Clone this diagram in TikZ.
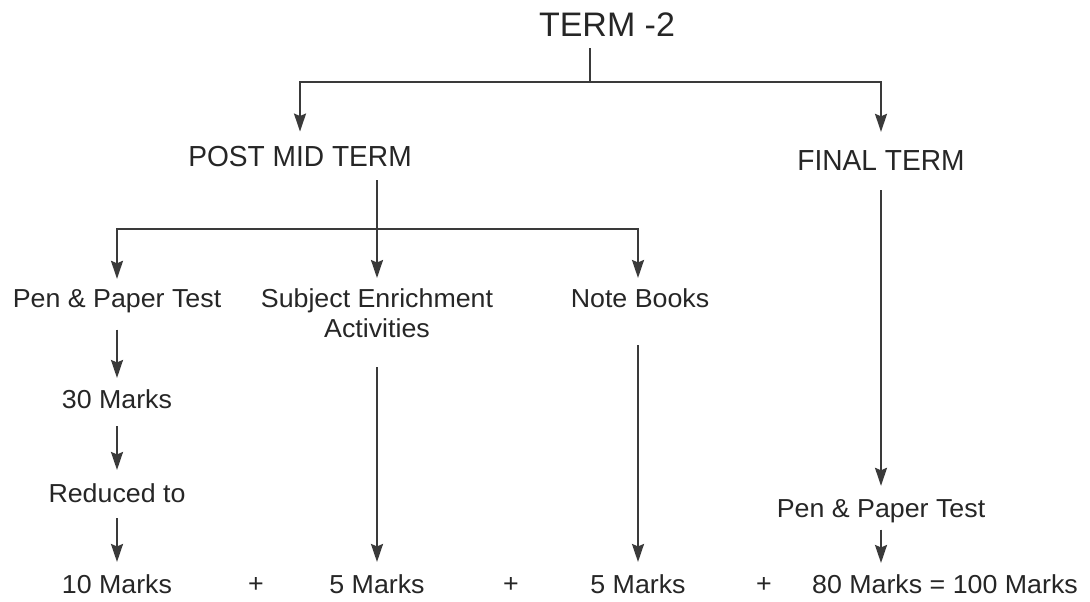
\documentclass[tikz,border=0pt]{standalone}
\usepackage{fontspec}
\setmainfont{Liberation Sans}
\newfontfamily\bodyf[FakeStretch=1.03]{Liberation Sans}
\newfontfamily\headf[FakeStretch=0.97]{Liberation Sans}
\usetikzlibrary{arrows.meta}
\definecolor{txt}{HTML}{262626}
\definecolor{lin}{HTML}{3A3A3A}
\begin{document}
\begin{tikzpicture}[x=1pt,y=-1pt,
  lbl/.style={anchor=base, inner sep=0pt, text=txt, font=\bodyf\fontsize{26}{30}\selectfont},
  head/.style={lbl, font=\headf\fontsize{29}{34}\selectfont},
  ln/.style={draw=lin, line width=2pt},
  arr/.style={ln, -{Stealth[length=18pt,width=12pt,inset=2.5pt]}}]
\useasboundingbox[fill=white] (0,0) rectangle (1090,602);

% nodes
\node[lbl, font=\fontsize{34}{40}\selectfont] (t2) at (607,37) {TERM -2};
\node[head] (pmt) at (300,166) {POST MID TERM};
\node[head] (ft) at (881,170) {FINAL TERM};
\node[lbl] (pp1) at (117,307) {Pen \& Paper Test};
\node[lbl, anchor=north, align=center] (se) at (377,288) {Subject Enrichment\\Activities};
\node[lbl] (nb) at (640,307) {Note Books};
\node[lbl] (m30) at (117,408) {30 Marks};
\node[lbl] (red) at (117,502) {Reduced to};
\node[lbl] (m10) at (117,593) {10 Marks};
\node[lbl] (m5a) at (377,593) {5 Marks};
\node[lbl] (m5b) at (638,593) {5 Marks};
\node[lbl] (m80) at (945,593) {80 Marks = 100 Marks};
\node[lbl] (p1) at (256,592) {+};
\node[lbl] (p2) at (511,592) {+};
\node[lbl] (p3) at (764,592) {+};
\node[lbl] (pp2) at (881,517) {Pen \& Paper Test};

\coordinate (j1) at (590,82);
\coordinate (j2) at (377,229);

% connectors
\draw[ln] (j1 |- t2.south) ++(0,11) -- (j1);
\draw[arr, shorten >=14pt] (j1) -| (pmt.north);
\draw[arr, shorten >=18pt] (j1) -| (ft.north);

\draw[ln] (j2 |- pmt.south) ++(0,14) -- (j2);
\draw[arr, shorten >=10pt] (j2) -- (se.north);
\draw[arr, shorten >=10pt] (j2) -| (pp1.north);
\draw[arr, shorten >=10pt] (j2) -| ([xshift=-2pt]nb.north);

\draw[arr, shorten <=17pt, shorten >=11pt] (pp1.south) -- (m30.north);
\draw[arr, shorten <=18pt, shorten >=13pt] (m30.south) -- (red.north);
\draw[arr, shorten <=16pt, shorten >=12pt] (red.south) -- (m10.north);
\draw[arr, shorten <=30pt, shorten >=12pt] (se.south) -- (m5a.north);
\draw[arr, shorten <=38pt, shorten >=12pt] ([xshift=-2pt]nb.south) -- (m5b.north);
\draw[arr, shorten <=20pt, shorten >=13pt] (ft.south) -- (pp2.north);
\draw[arr, shorten <=7pt, shorten >=11pt] (pp2.south) -- (pp2.south |- m80.north);
\end{tikzpicture}
\end{document}
